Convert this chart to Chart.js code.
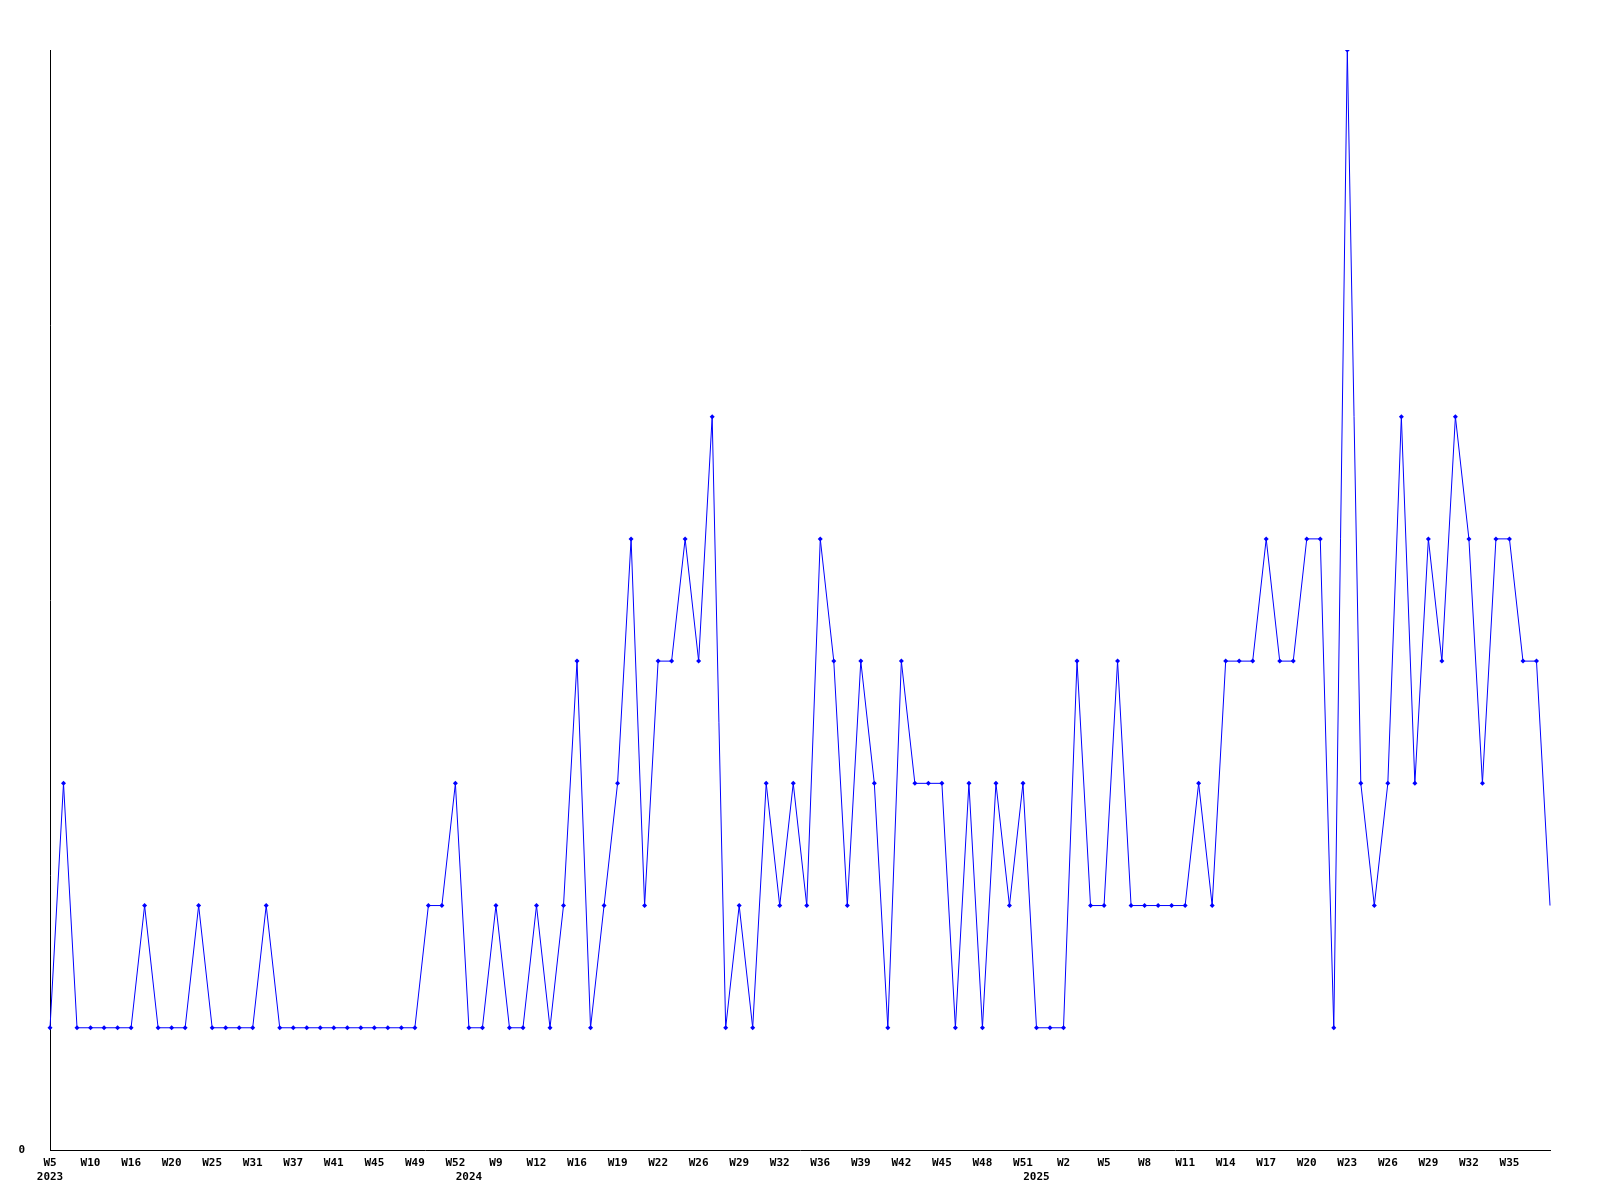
<!DOCTYPE html>
<html>
<head>
<meta charset="utf-8">
<script src="https://cdn.jsdelivr.net/npm/chart.js@4/dist/chart.umd.min.js"></script>
<style>
  body { margin: 0; background: #fff; }
  #wrap { width: 1600px; height: 1200px; }
</style>
</head>
<body>
<div id="wrap"><canvas id="chart" width="1600" height="1200"></canvas></div>
<script>
// weekly counts, Feb 2023 - Sep 2025
const weeks = [
  'W5','W7','W9','W10','W12','W14','W16','W17','W19','W20',
  'W22','W24','W25','W27','W29','W31','W33','W35','W37','W38',
  'W40','W41','W42','W44','W45','W46','W48','W49','W50','W51',
  'W52','W3','W6','W9','W10','W11','W12','W14','W15','W16',
  'W17','W18','W19','W20','W21','W22','W24','W25','W26','W27',
  'W28','W29','W30','W31','W32','W34','W35','W36','W37','W38',
  'W39','W40','W41','W42','W43','W44','W45','W46','W47','W48',
  'W49','W50','W51','W52','W1','W2','W3','W4','W5','W6',
  'W7','W8','W9','W10','W11','W12','W13','W14','W15','W16',
  'W17','W18','W19','W20','W21','W22','W23','W24','W25','W26',
  'W27','W28','W29','W30','W31','W32','W33','W34','W35','W36',
  'W37','W38'
];
const counts = [
  1,3,1,1,1,1,1,2,1,1,
  1,2,1,1,1,1,2,1,1,1,
  1,1,1,1,1,1,1,1,2,2,
  3,1,1,2,1,1,2,1,2,4,
  1,2,3,5,2,4,4,5,4,6,
  1,2,1,3,2,3,2,5,4,2,
  4,3,1,4,3,3,3,1,3,1,
  3,2,3,1,1,1,4,2,2,4,
  2,2,2,2,2,3,2,4,4,4,
  5,4,4,5,5,1,9,3,2,3,
  6,3,5,4,6,5,3,5,5,4,
  4,2
];
const years = ['2023', '2024', '2025'];
const yearStarts = [0, 31, 73];
const yTicks = [0];

const labelFont = { family: 'DejaVu Sans Mono', size: 11, weight: 'bold', lineHeight: 1.2 };

new Chart(document.getElementById('chart').getContext('2d'), {
    type: 'line',
    data: {
        labels: weeks,
        datasets: [{
            data: counts,
            borderColor: '#0000ff',
            backgroundColor: '#0000ff',
            borderWidth: 1,
            tension: 0,
            pointStyle: 'rectRot',
            pointRadius: ctx => ctx.dataIndex === counts.length - 1 ? 0 : 2.5,
            pointBorderWidth: 0
        }]
    },
    options: {
        responsive: false,
        animation: false,
        layout: { padding: { top: 50, right: 50, left: 0, bottom: 0 } },
        plugins: { legend: { display: false }, tooltip: { enabled: false } },
        scales: {
            x: {
                grid: { display: false, drawTicks: false },
                border: { display: true, color: '#000', width: 1 },
                ticks: {
                    autoSkip: false,
                    maxRotation: 0,
                    padding: 7,
                    color: '#000',
                    font: labelFont,
                    callback: function(v, i) {
                        // every third week, but not the trailing partial group
                        const wk = (i % 3 === 0 && i + 3 < weeks.length) ? weeks[i] : '';
                        const y = yearStarts.indexOf(i);
                        return y >= 0 ? [wk, years[y]] : wk;
                    }
                },
                afterFit: s => { s.height = 50; }
            },
            y: {
                min: 0,
                max: 9,
                grid: { display: false, drawTicks: false },
                border: { display: true, color: '#000', width: 1 },
                ticks: {
                    stepSize: 1,
                    padding: 25,
                    color: '#000',
                    font: labelFont,
                    callback: v => yTicks.includes(v) ? String(v) : null
                },
                afterFit: s => { s.width = 50; }
            }
        }
    }
});
</script>
</body>
</html>
